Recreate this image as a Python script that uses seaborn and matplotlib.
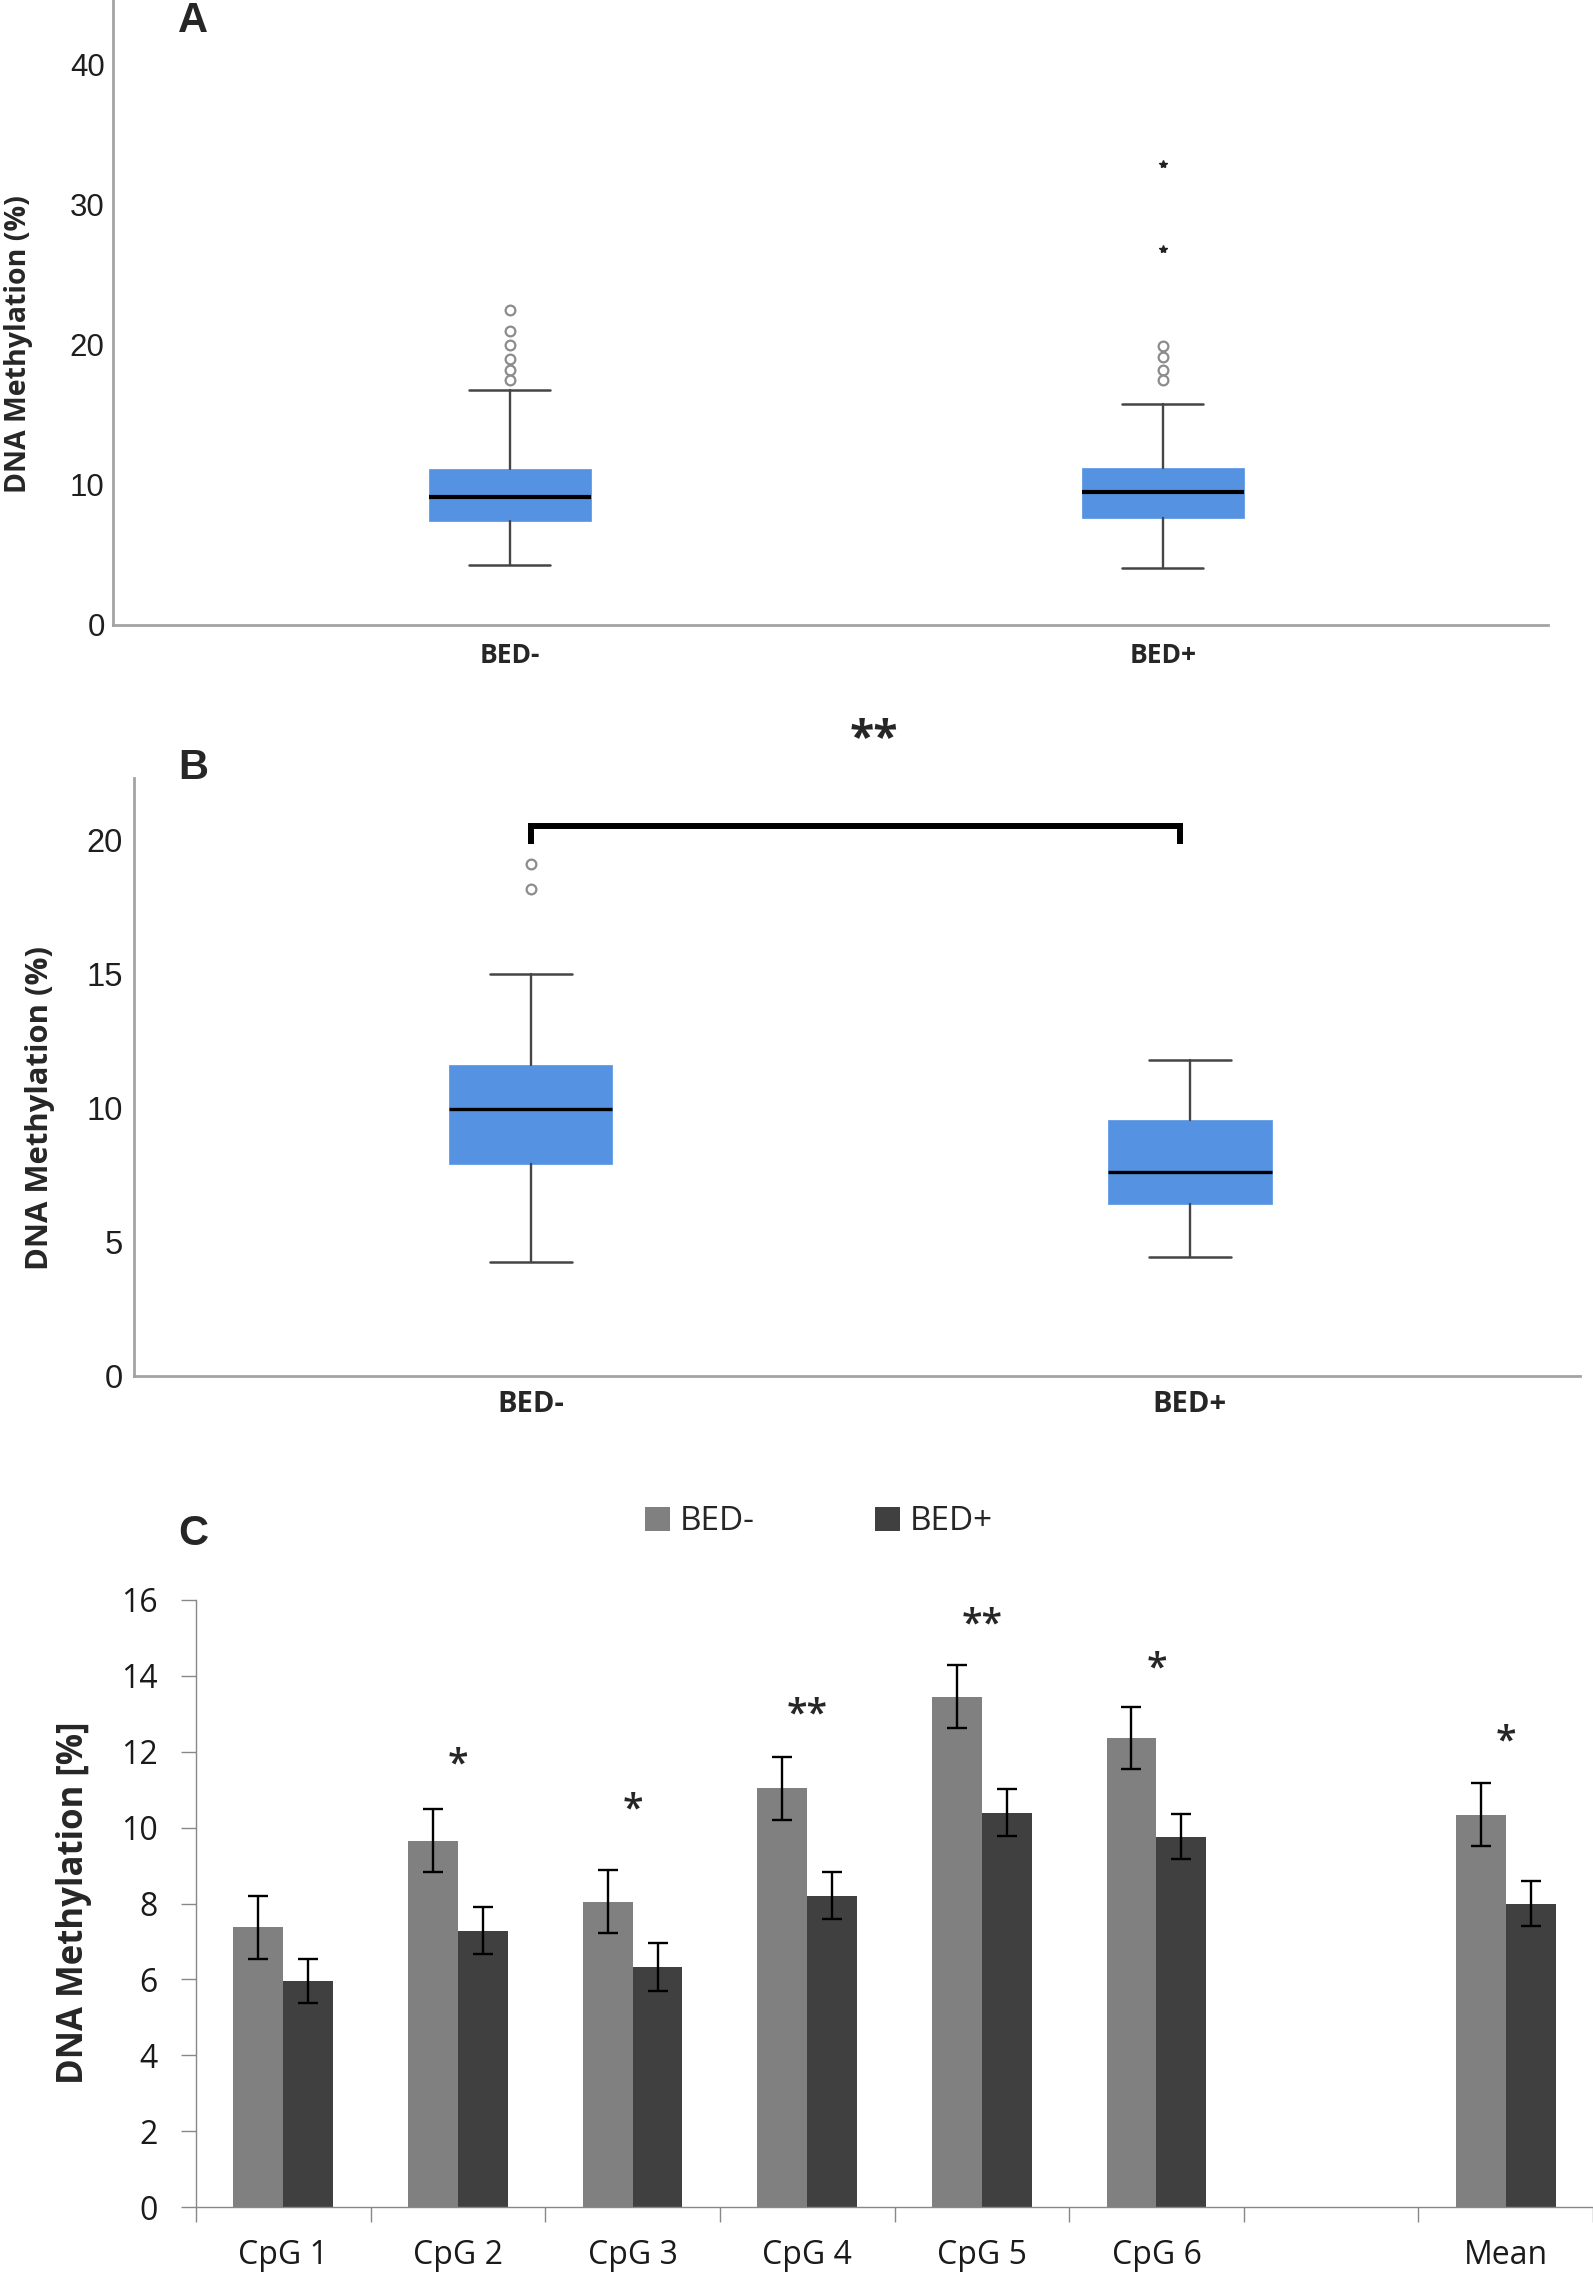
import numpy as np
import pandas as pd
import matplotlib
matplotlib.use("Agg")
import matplotlib.pyplot as plt
import seaborn as sns

# ---------------- Data ----------------
groups = ["BED-", "BED+"]

# Panel A: box statistics per group
a_whislo = [4.3, 4.1]
a_q1 = [7.4, 7.6]
a_median = [9.1, 9.5]
a_q3 = [11.1, 11.2]
a_whishi = [16.8, 15.8]
a_outliers = [[22.5, 21.0, 20.0, 19.0, 18.2, 17.5], [19.9, 19.1, 18.2, 17.5]]
a_extremes = [[], [32.9, 26.8]]

# Panel B: box statistics per group
b_whislo = [4.25, 4.45]
b_q1 = [7.9, 6.4]
b_median = [9.95, 7.6]
b_q3 = [11.6, 9.55]
b_whishi = [15.0, 11.8]
b_outliers = [[19.1, 18.15], []]
b_extremes = [[], []]
b_bracket_top = 20.5
b_bracket_foot = 19.85
b_sig_label = "**"
b_sig_height = 24.3

# Panel C: means and error bars
cpg_sites = ["CpG 1", "CpG 2", "CpG 3", "CpG 4", "CpG 5", "CpG 6", "Mean"]
axis_order = ["CpG 1", "CpG 2", "CpG 3", "CpG 4", "CpG 5", "CpG 6", " ", "Mean"]
bed_minus_mean = [7.37, 9.65, 8.05, 11.04, 13.45, 12.36, 10.34]
bed_plus_mean = [5.96, 7.28, 6.33, 8.21, 10.39, 9.76, 8.00]
bed_minus_err = [0.83, 0.83, 0.83, 0.83, 0.83, 0.81, 0.83]
bed_plus_err = [0.59, 0.62, 0.63, 0.62, 0.62, 0.60, 0.60]
c_sig_label = ["", "*", "*", "**", "**", "*", "*"]
c_sig_height = [0, 11.96, 10.78, 13.29, 15.65, 14.5, 12.57]

# ---------------- Style ----------------
sns.set_theme(style="white")
plt.rcParams["font.family"] = ["Liberation Sans", "DejaVu Sans"]

BOX_BLUE = "#5593E2"
GREY_SPINE = "#a3a3a3"
COL_MINUS = "#808080"
COL_PLUS = "#404040"
font_os = ["Open Sans", "DejaVu Sans"]

fig = plt.figure(figsize=(15.93, 22.82), dpi=100)


def box_panel(ax, whislo, q1, med, q3, whishi, outl, extr, med_lw):
    stats = []
    for i, g in enumerate(groups):
        stats.append(dict(label=g, whislo=whislo[i], q1=q1[i], med=med[i],
                          q3=q3[i], whishi=whishi[i], fliers=outl[i]))
    ax.bxp(stats, positions=[0, 1], widths=0.248, capwidths=0.124,
           patch_artist=True, showfliers=True,
           boxprops=dict(facecolor=BOX_BLUE, edgecolor=BOX_BLUE, linewidth=0.5),
           medianprops=dict(color="black", linewidth=med_lw, solid_capstyle="butt"),
           whiskerprops=dict(color="#454545", linewidth=1.7),
           capprops=dict(color="#454545", linewidth=1.8),
           flierprops=dict(marker="o", markerfacecolor="white",
                           markeredgecolor="#8c8c8c", markersize=7,
                           markeredgewidth=1.6, linestyle="none"))
    for i, ex in enumerate(extr):
        if ex:
            ax.plot(np.full(len(ex), i), ex, linestyle="none", marker="*",
                    markersize=6, color="#222222")
    sns.despine(ax=ax)
    for s in ["left", "bottom"]:
        ax.spines[s].set_color(GREY_SPINE)
        ax.spines[s].set_linewidth(2.0)
    ax.tick_params(axis="both", length=0)


# ---------------- Panel A ----------------
axA = fig.add_axes([113 / 1593, 1 - 625 / 2282, 1435 / 1593, 625 / 2282])
box_panel(axA, a_whislo, a_q1, a_median, a_q3, a_whishi, a_outliers, a_extremes, 3.0)
axA.set_xlim(-0.608, 1.59)
axA.set_ylim(0, 44.6)
axA.set_yticks([0, 10, 20, 30, 40])
axA.tick_params(axis="y", labelsize=22.5, pad=6, labelcolor="#1e1e1e")
axA.set_xticks([0, 1])
axA.set_xticklabels(groups, fontsize=19, fontweight="bold", family=font_os)
axA.tick_params(axis="x", pad=12)
axA.set_ylabel("DNA Methylation (%)", fontsize=20.5, fontweight="bold", family=font_os)
axA.yaxis.label.set(rotation_mode="default", va="center", ha="center")
axA.yaxis.set_label_coords((18 - 113) / 1435, 0.45)

# ---------------- Panel B ----------------
axB = fig.add_axes([134 / 1593, 1 - 1376 / 2282, 1446 / 1593, 598 / 2282])
box_panel(axB, b_whislo, b_q1, b_median, b_q3, b_whishi, b_outliers, b_extremes, 2.4)
axB.set_xlim(-0.602, 1.592)
axB.set_ylim(0, 22.3)
axB.set_yticks([0, 5, 10, 15, 20])
axB.tick_params(axis="y", labelsize=23.5, pad=8, labelcolor="#1e1e1e")
axB.set_xticks([0, 1])
axB.set_xticklabels(groups, fontsize=21, fontweight="bold", family=font_os)
axB.tick_params(axis="x", pad=10)
axB.set_ylabel("DNA Methylation (%)", fontsize=22.3, fontweight="bold", family=font_os)
axB.yaxis.label.set(rotation_mode="default", va="center", ha="center")
axB.yaxis.set_label_coords((40 - 134) / 1446, 0.448)
axB.plot([0, 0, 0.985, 0.985],
         [b_bracket_foot, b_bracket_top, b_bracket_top, b_bracket_foot],
         color="black", linewidth=4.3, solid_joinstyle="miter",
         solid_capstyle="butt", clip_on=False)
axB.annotate(b_sig_label, xy=(0.52, b_sig_height), xytext=(0, -0.6 * 32),
             textcoords="offset points", ha="center", va="baseline",
             fontsize=32, fontweight="bold", family=font_os,
             annotation_clip=False)

# ---------------- Panel C ----------------
axC = fig.add_axes([196 / 1593, 1 - 2207 / 2282, 1 - 196 / 1593, 607 / 2282])
df = pd.DataFrame({
    "site": cpg_sites * 2,
    "group": [groups[0]] * len(cpg_sites) + [groups[1]] * len(cpg_sites),
    "value": bed_minus_mean + bed_plus_mean,
})
sns.barplot(data=df, x="site", y="value", hue="group", order=axis_order,
            hue_order=groups, palette={groups[0]: COL_MINUS, groups[1]: COL_PLUS},
            width=2 / 3.5, gap=0, errorbar=None, saturation=1, linewidth=0,
            ax=axC)

errs = {groups[0]: bed_minus_err, groups[1]: bed_plus_err}
for cont, g in zip(axC.containers, groups):
    xs, ys, es = [], [], []
    for bar in cont:
        h = bar.get_height()
        if not np.isfinite(h):
            continue
        xc = bar.get_x() + bar.get_width() / 2
        name = axis_order[int(round(xc))]
        xs.append(xc)
        ys.append(h)
        es.append(errs[g][cpg_sites.index(name)])
    axC.errorbar(xs, ys, yerr=es, fmt="none", ecolor="black", elinewidth=1.7,
                 capsize=7.2, capthick=1.7)

for i, name in enumerate(cpg_sites):
    if c_sig_label[i]:
        fs = 27
        axC.annotate(c_sig_label[i], xy=(axis_order.index(name), c_sig_height[i]),
                     xytext=(0, -0.6 * fs), textcoords="offset points",
                     ha="center", va="baseline", fontsize=fs, family=font_os,
                     fontweight="semibold", annotation_clip=False)

axC.set_xlim(-0.5, len(axis_order) - 0.5)
axC.set_ylim(0, 16)
axC.set_yticks(np.arange(0, 17, 2))
axC.set_xlabel("")
axC.set_ylabel("DNA Methylation [%]", fontsize=25, fontweight="bold", family=font_os)
axC.yaxis.label.set(rotation_mode="default", va="center", ha="center")
axC.yaxis.set_label_coords((74 - 196) / 1397, 0.502)
axC.set_xticks(range(len(axis_order)))
axC.set_xticklabels(axis_order, family=font_os, fontsize=23)
for lab in axC.get_yticklabels():
    lab.set_family(font_os)
axC.set_xticks(np.arange(-0.5, len(axis_order), 1), minor=True)
axC.tick_params(axis="x", which="major", length=0, pad=23, labelcolor="#1a1a1a")
axC.tick_params(axis="x", which="minor", length=10.8, width=1.0, color="#888888",
                direction="out", bottom=True)
axC.tick_params(axis="y", which="major", length=10.8, width=1.0, color="#888888",
                direction="out", left=True, labelsize=23, pad=17,
                labelcolor="#1a1a1a")
sns.despine(ax=axC)
for s in ["left", "bottom"]:
    axC.spines[s].set_color("#888888")
    axC.spines[s].set_linewidth(1.0)

handles, labels = axC.get_legend_handles_labels()
if axC.get_legend() is not None:
    axC.get_legend().remove()
fig.legend(handles, labels, loc="center", bbox_to_anchor=(0.514, 1 - 1522 / 2282),
           ncol=2, frameon=False, prop={"family": font_os, "size": 24},
           handlelength=0.75, handleheight=0.75, handletextpad=0.3,
           columnspacing=3.6)

# ---------------- Panel letters ----------------
for letter, (px, py) in zip(["A", "B", "C"], [(193, 21), (193, 768), (193, 1534)]):
    fig.text(px / 1593, 1 - py / 2282, letter, fontsize=30, fontweight="bold",
             ha="center", va="center")

fig.savefig("out.png", dpi=100)
